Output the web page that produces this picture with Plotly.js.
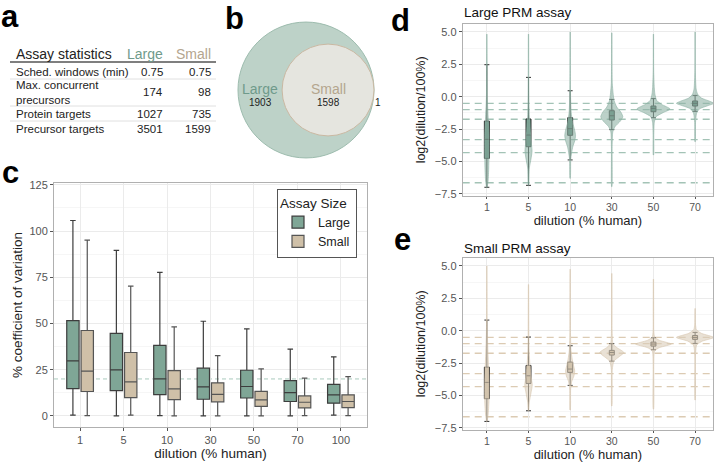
<!DOCTYPE html>
<html>
<head>
<meta charset="utf-8">
<script src="https://cdn.plot.ly/plotly-3.0.1.min.js"></script>
<style>
  html, body { margin: 0; padding: 0; background: #fff; }
  #fig { width: 720px; height: 462px; }
</style>
</head>
<body>
<div id="fig"></div>
<script>
// Daten

// a: Tabelle
const tabZeilen = ['Sched. windows (min)', 'Max. concurrent<br>precursors', 'Protein targets', 'Precursor targets'];
const tabLarge = ['0.75', '174', '1027', '3501'];
const tabSmall = ['0.75', '98', '735', '1599'];

// b: Venn
const vennNurLarge = 1903;
const vennBeide = 1598;
const vennNurSmall = 1;

// c: Boxplots CV
const verdCV = ['1', '5', '10', '30', '50', '70', '100'];
const cvLargeLo = [0.4, 0, 0.2, 0, 0, 0, 0.4];
const cvLargeQ1 = [14.8, 13.7, 11.5, 9.0, 9.7, 7.8, 6.9];
const cvLargeMed = [29.8, 24.9, 20.0, 15.7, 15.9, 12.6, 11.4];
const cvLargeQ3 = [51.6, 44.6, 38.2, 25.8, 24.7, 19.1, 17.1];
const cvLargeHi = [105.7, 89.6, 77.7, 51.2, 47.1, 36.1, 31.9];
const cvSmallLo = [0.2, 0.4, 0, 0, 0, 0.2, 0.2];
const cvSmallQ1 = [13.2, 9.9, 8.8, 7.6, 5.2, 4.3, 4.5];
const cvSmallMed = [24.2, 18.4, 14.6, 11.7, 8.7, 7.4, 7.8];
const cvSmallQ3 = [46.2, 34.3, 24.5, 17.9, 13.3, 10.8, 11.4];
const cvSmallHi = [95.1, 70.2, 48.2, 32.6, 25.4, 20.4, 21.3];
const cvGrenze = 20;

// d/e: PRM Verdünnungen
const verdPRM = ['1', '5', '10', '30', '50', '70'];
const sollwerte = [-0.51, -1.0, -1.74, -3.32, -4.32, -6.64];

const largeLo = [-6.99, -6.84, -4.88, -2.54, -1.62, -1.13];
const largeQ1 = [-4.76, -3.86, -2.98, -1.80, -1.16, -0.72];
const largeMed = [-3.29, -2.96, -2.47, -1.47, -0.90, -0.51];
const largeQ3 = [-1.88, -1.72, -1.62, -1.08, -0.72, -0.33];
const largeHi = [2.47, 1.49, 0.46, -0.21, -0.15, 0.10];

const smallLo = [-7.0, -6.18, -4.22, -2.35, -1.47, -0.98];
const smallQ1 = [-5.25, -4.07, -3.22, -1.88, -1.19, -0.67];
const smallMed = [-3.99, -3.48, -2.96, -1.68, -1.03, -0.52];
const smallQ3 = [-2.81, -2.68, -2.42, -1.52, -0.88, -0.37];
const smallHi = [0.82, -0.49, -1.16, -1.0, -0.55, -0.13];

// Violinprofile: y-Stufen und halbe Breite (in Kategorie-Einheiten)
const violLargeY = [
  [4.83, 2.5, 0, -1.5, -3, -4.5, -5.5, -6.5, -7.0],
  [4.83, 2, 0, -1.5, -2.5, -3.5, -4.2, -4.8, -5.5, -6.84],
  [5.0, 2, 0, -1.2, -2.0, -2.6, -3.0, -3.4, -3.9, -4.8, -6.3],
  [4.93, 2.5, 1.0, 0.3, -0.3, -0.8, -1.2, -1.55, -1.9, -2.3, -2.7, -4, -6.94],
  [4.83, 2, 0.7, 0.2, -0.3, -0.6, -0.95, -1.25, -1.55, -2, -3, -4.5],
  [5.0, 2, 0.6, 0.2, -0.1, -0.35, -0.51, -0.7, -0.95, -1.3, -2, -3.47]
];
const violLargeW = [
  [0.004, 0.006, 0.01, 0.03, 0.05, 0.05, 0.045, 0.03, 0.004],
  [0.004, 0.006, 0.01, 0.02, 0.04, 0.065, 0.085, 0.06, 0.02, 0.004],
  [0.004, 0.006, 0.01, 0.025, 0.06, 0.11, 0.13, 0.11, 0.06, 0.015, 0.004],
  [0.004, 0.006, 0.012, 0.03, 0.055, 0.12, 0.22, 0.265, 0.2, 0.08, 0.025, 0.008, 0.004],
  [0.004, 0.006, 0.02, 0.035, 0.08, 0.2, 0.4, 0.22, 0.06, 0.02, 0.008, 0.004],
  [0.004, 0.006, 0.025, 0.06, 0.15, 0.35, 0.45, 0.3, 0.1, 0.035, 0.01, 0.004]
];
const violSmallY = [
  [5.0, 2, 0, -2, -4, -5.5, -6.5, -7.0],
  [3.57, 1.5, 0, -1.5, -2.7, -3.6, -4.2, -4.8, -5.5, -6.18],
  [4.75, 2, 0, -1.5, -2.2, -2.8, -3.1, -3.5, -3.9, -4.5, -6.12],
  [4.42, 2, 0, -1.0, -1.3, -1.68, -2.0, -2.35, -3, -5.81],
  [3.98, 1.5, 0, -0.5, -0.75, -1.03, -1.3, -1.55, -2.5, -6.05],
  [1.72, 0.5, 0.1, -0.2, -0.52, -0.8, -1.1, -2, -5.35]
];
const violSmallW = [
  [0.004, 0.006, 0.01, 0.03, 0.05, 0.05, 0.03, 0.004],
  [0.004, 0.006, 0.008, 0.015, 0.035, 0.065, 0.09, 0.06, 0.02, 0.004],
  [0.004, 0.006, 0.008, 0.02, 0.05, 0.09, 0.11, 0.09, 0.04, 0.012, 0.004],
  [0.004, 0.006, 0.008, 0.03, 0.12, 0.29, 0.18, 0.05, 0.012, 0.004],
  [0.004, 0.006, 0.008, 0.03, 0.15, 0.43, 0.15, 0.03, 0.008, 0.004],
  [0.004, 0.01, 0.03, 0.15, 0.45, 0.18, 0.04, 0.008, 0.004]
];

// Farben + Hilfsfunktionen
const schrift = 'Liberation Sans, Arial, Helvetica, sans-serif';
const gruen = '#7fa696', beige = '#cfc0a8';
const PX = x => x / 720;
const PY = y => 1 - y / 462;

var traces = [];

// c: Boxplots
traces.push({
  type: 'box', name: 'Large', x: verdCV,
  q1: cvLargeQ1, median: cvLargeMed, q3: cvLargeQ3, lowerfence: cvLargeLo, upperfence: cvLargeHi,
  xaxis: 'x', yaxis: 'y', alignmentgroup: 'c', offsetgroup: 'L',
  fillcolor: gruen, line: {color: '#3d3d3d', width: 1.2},
  whiskerwidth: 0.45, boxpoints: false, hoverinfo: 'skip'
});
traces.push({
  type: 'box', name: 'Small', x: verdCV,
  q1: cvSmallQ1, median: cvSmallMed, q3: cvSmallQ3, lowerfence: cvSmallLo, upperfence: cvSmallHi,
  xaxis: 'x', yaxis: 'y', alignmentgroup: 'c', offsetgroup: 'S',
  fillcolor: beige, line: {color: '#555555', width: 1.2},
  whiskerwidth: 0.45, boxpoints: false, hoverinfo: 'skip'
});

// d/e: Violinen als gefüllte Umrisse
function violine(idx, ys, ws, ax, fuell, linie) {
  var x = [], y = [];
  for (var k = 0; k < ys.length; k++) { x.push(idx + ws[k]); y.push(ys[k]); }
  for (var k = ys.length - 1; k >= 0; k--) { x.push(idx - ws[k]); y.push(ys[k]); }
  return {
    type: 'scatter', mode: 'lines', x: x, y: y, fill: 'toself', fillcolor: fuell,
    line: {color: linie, width: 0.6, shape: 'spline', smoothing: 0.6},
    xaxis: 'x' + ax, yaxis: 'y' + ax, showlegend: false, hoverinfo: 'skip'
  };
}
for (var i = 0; i < verdPRM.length; i++) {
  traces.push(violine(i, violLargeY[i], violLargeW[i], '2', 'rgba(143,179,165,0.6)', '#8db2a4'));
  traces.push(violine(i, violSmallY[i], violSmallW[i], '3', 'rgba(218,205,185,0.6)', '#d6c6ae'));
}
var idxPRM = verdPRM.map((v, i) => i);
traces.push({
  type: 'box', x: idxPRM, q1: largeQ1, median: largeMed, q3: largeQ3, lowerfence: largeLo, upperfence: largeHi,
  xaxis: 'x2', yaxis: 'y2', alignmentgroup: 'd', offsetgroup: 'd', width: 0.12, whiskerwidth: 1, fillcolor: '#5b8676',
  line: {color: '#2f2f2f', width: 1}, boxpoints: false, showlegend: false, hoverinfo: 'skip'
});
traces.push({
  type: 'box', x: idxPRM, q1: smallQ1, median: smallMed, q3: smallQ3, lowerfence: smallLo, upperfence: smallHi,
  xaxis: 'x3', yaxis: 'y3', alignmentgroup: 'e', offsetgroup: 'e', width: 0.12, whiskerwidth: 1, fillcolor: '#c6b69e',
  line: {color: '#2f2f2f', width: 1}, boxpoints: false, showlegend: false, hoverinfo: 'skip'
});

// Shapes + Annotationen
var shapes = [];
var annots = [];

// Panelbuchstaben
[['a', 10, 16], ['b', 234, 18], ['c', 10, 173], ['d', 400, 21], ['e', 402, 240]].forEach(function (p) {
  annots.push({text: '<b>' + p[0] + '</b>', x: PX(p[1]), y: PY(p[2]), xref: 'paper', yref: 'paper',
    showarrow: false, font: {size: 31, color: '#000'}, xanchor: 'center', yanchor: 'middle'});
});

// a: Tabelle
function txt(t, x, y, anchor, size, farbe) {
  annots.push({text: t, x: PX(x), y: PY(y), xref: 'paper', yref: 'paper', showarrow: false,
    xanchor: anchor, yanchor: 'middle', font: {size: size, color: farbe}, align: 'left'});
}
txt('Assay statistics', 14, 54, 'left', 14, '#222');
txt('Large', 165, 54, 'right', 14, '#6f9a8b');
txt('Small', 213, 54, 'right', 14, '#b4a58e');
var zeileY = [72, 92.5, 114, 129];
for (var r = 0; r < tabZeilen.length; r++) {
  txt(tabZeilen[r], 14, zeileY[r], 'left', 11.5, '#222');
  txt(tabLarge[r], 165, zeileY[r], 'right', 11.5, '#222');
  txt(tabSmall[r], 213, zeileY[r], 'right', 11.5, '#222');
}
shapes.push({type: 'line', xref: 'paper', yref: 'paper', x0: PX(10), x1: PX(216), y0: PY(62), y1: PY(62), line: {color: '#555', width: 1.5}});
[79, 106, 121].forEach(function (yy) {
  shapes.push({type: 'line', xref: 'paper', yref: 'paper', x0: PX(10), x1: PX(216), y0: PY(yy), y1: PY(yy), line: {color: '#e0e0e0', width: 1}});
});

// b: Venn, Fläche proportional zur Anzahl
var rL = Math.sqrt(vennNurLarge + vennBeide);
var rS = Math.sqrt(vennBeide + vennNurSmall);
var cS = rL - rS;
shapes.push({type: 'circle', xref: 'x4', yref: 'y4', x0: -rL, x1: rL, y0: -rL, y1: rL,
  fillcolor: '#bdd2c8', line: {color: '#9dbcae', width: 1}});
shapes.push({type: 'circle', xref: 'x4', yref: 'y4', x0: cS - rS, x1: cS + rS, y0: -rS, y1: rS,
  fillcolor: '#e5e5df', line: {color: '#c9b8a2', width: 1}});
var xLinks = (-rL + cS - rS) / 2;
annots.push({text: 'Large', x: xLinks, y: 1, xref: 'x4', yref: 'y4', showarrow: false, font: {size: 14, color: '#6f9a8b'}});
annots.push({text: String(vennNurLarge), x: xLinks, y: -11, xref: 'x4', yref: 'y4', showarrow: false, font: {size: 10, color: '#222'}});
annots.push({text: 'Small', x: cS, y: 1, xref: 'x4', yref: 'y4', showarrow: false, font: {size: 14, color: '#b4a58e'}});
annots.push({text: String(vennBeide), x: cS, y: -11, xref: 'x4', yref: 'y4', showarrow: false, font: {size: 10, color: '#222'}});
annots.push({text: String(vennNurSmall), x: rL - 1, y: -11, xref: 'x4', yref: 'y4', xanchor: 'left', showarrow: false, font: {size: 10, color: '#222'}});

// c: Grenzlinie
shapes.push({type: 'line', xref: 'x domain', yref: 'y', x0: 0, x1: 1, y0: cvGrenze, y1: cvGrenze, layer: 'below',
  line: {color: '#a9cabd', width: 1, dash: '4px,3px'}});

// d/e: Sollwerte
sollwerte.forEach(function (v) {
  shapes.push({type: 'line', xref: 'x2 domain', yref: 'y2', x0: 0, x1: 1, y0: v, y1: v, layer: 'below',
    line: {color: '#a3c3b6', width: 1.3, dash: '7px,5px'}});
  shapes.push({type: 'line', xref: 'x3 domain', yref: 'y3', x0: 0, x1: 1, y0: v, y1: v, layer: 'below',
    line: {color: '#dccbb3', width: 1.3, dash: '7px,5px'}});
});

// Titel d/e
txt('Large PRM assay', 462, 13, 'left', 13.5, '#111');
txt('Small PRM assay', 462, 248, 'left', 13.5, '#111');

// Achsen-Basis
function achse(extra) {
  var a = {
    showgrid: true, gridcolor: '#ebebeb', gridwidth: 1, zeroline: false,
    showline: true, linecolor: '#b0b0b0', linewidth: 1, mirror: true,
    ticks: 'outside', ticklen: 3, tickcolor: '#555', tickfont: {size: 11, color: '#555'}
  };
  for (var k in extra) a[k] = extra[k];
  return a;
}

var layout = {
  width: 720, height: 462,
  margin: {l: 0, r: 0, t: 0, b: 0},
  paper_bgcolor: '#fff', plot_bgcolor: 'rgba(0,0,0,0)',
  font: {family: schrift, color: '#222'},
  boxmode: 'group', boxgap: 0.34, boxgroupgap: 0.14,
  showlegend: true,
  legend: {
    x: PX(277), y: PY(189), xanchor: 'left', yanchor: 'top',
    bordercolor: '#555', borderwidth: 1, bgcolor: '#fff',
    title: {text: 'Assay Size', font: {size: 13.5, color: '#222'}},
    font: {size: 12.5, color: '#222'}, tracegroupgap: 2
  },
  xaxis: achse({
    domain: [PX(54), PX(367)], anchor: 'y', type: 'category',
    categoryorder: 'array', categoryarray: verdCV, range: [-0.6, 6.6],
    title: {text: 'dilution (% human)', font: {size: 13.5, color: '#222'}, standoff: 3}
  }),
  yaxis: achse({
    domain: [PY(427), PY(183)], anchor: 'x', range: [-6, 126],
    tickvals: [0, 25, 50, 75, 100, 125],
    minor: {dtick: 12.5, tick0: 0, showgrid: true, gridcolor: '#f6f6f6'},
    title: {text: '% coefficient of variation', font: {size: 13.5, color: '#222'}, standoff: 3}
  }),
  xaxis2: achse({
    domain: [PX(462.7), PX(713)], anchor: 'y2', range: [-0.58, 5.43],
    tickvals: idxPRM, ticktext: verdPRM, ticklen: 2, tickfont: {size: 10.5, color: '#555'},
    title: {text: 'dilution (% human)', font: {size: 13, color: '#222'}, standoff: 3}
  }),
  yaxis2: achse({
    domain: [PY(195.7), PY(24)], anchor: 'x2', range: [-7.64, 5.61],
    dtick: 2.5, tick0: 0, tickformat: '.1f',
    minor: {dtick: 1.25, tick0: 0, showgrid: true, gridcolor: '#f6f6f6'},
    title: {text: 'log2(dilution/100%)', font: {size: 12.5, color: '#222'}, standoff: 6}
  }),
  xaxis3: achse({
    domain: [PX(462.7), PX(713)], anchor: 'y3', range: [-0.58, 5.43],
    tickvals: idxPRM, ticktext: verdPRM, ticklen: 2, tickfont: {size: 10.5, color: '#555'},
    title: {text: 'dilution (% human)', font: {size: 13, color: '#222'}, standoff: 3}
  }),
  yaxis3: achse({
    domain: [PY(429.7), PY(258)], anchor: 'x3', range: [-7.64, 5.61],
    dtick: 2.5, tick0: 0, tickformat: '.1f',
    minor: {dtick: 1.25, tick0: 0, showgrid: true, gridcolor: '#f6f6f6'},
    title: {text: 'log2(dilution/100%)', font: {size: 12.5, color: '#222'}, standoff: 6}
  }),
  xaxis4: {domain: [PX(236), PX(380)], anchor: 'y4', range: [-60.9, 64.4], visible: false, fixedrange: true},
  yaxis4: {domain: [PY(162), PY(18)], anchor: 'x4', range: [-62.7, 62.7], visible: false, fixedrange: true},
  shapes: shapes,
  annotations: annots
};

Plotly.newPlot('fig', traces, layout, {displayModeBar: false, staticPlot: true});
</script>
</body>
</html>
